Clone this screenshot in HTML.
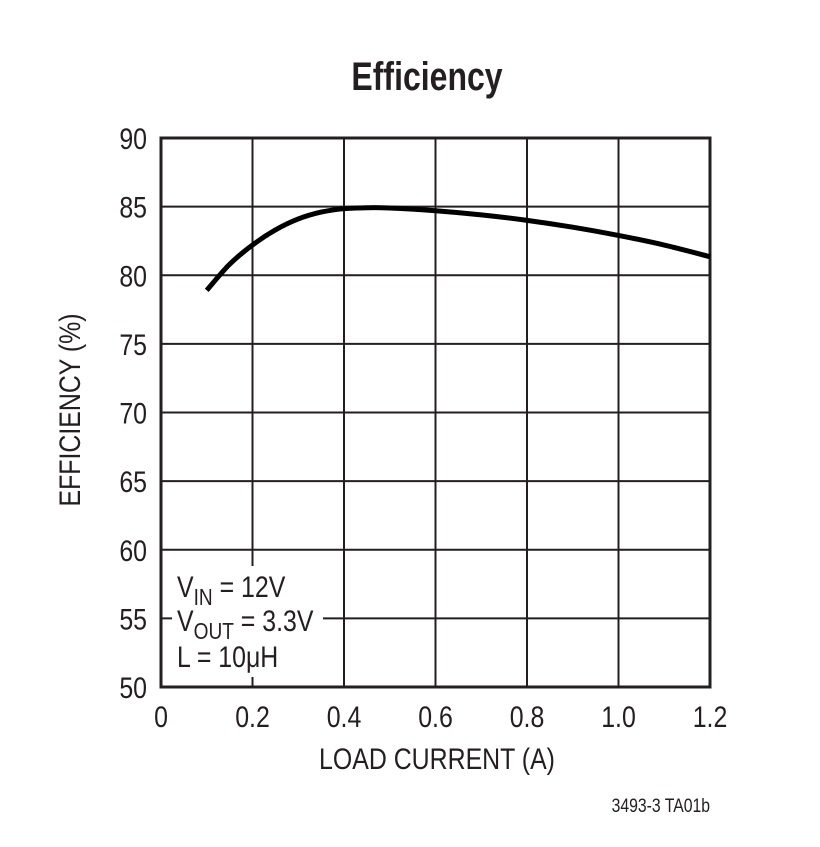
<!DOCTYPE html>
<html><head><meta charset="utf-8"><style>
html,body{margin:0;padding:0;background:#fff;}
svg text{font-family:"Liberation Sans",sans-serif;fill:#231f20;}
</style></head><body>
<svg id="chart" width="820" height="842" xmlns="http://www.w3.org/2000/svg">
<text x="0" y="0" font-size="40" font-weight="bold" text-anchor="middle" transform="translate(427,90) scale(0.8,1)">Efficiency</text>
<g id="grid"></g>
<g id="ticks"></g>
<rect x="172" y="566" width="151" height="111" fill="#fff"/>
<g font-size="30" transform="translate(177,0) scale(0.83,1)">
<text x="0" y="597">V<tspan font-size="23" dy="8">IN</tspan><tspan dy="-8"> = 12V</tspan></text>
<text x="0" y="631">V<tspan font-size="23" dy="8">OUT</tspan><tspan dy="-8"> = 3.3V</tspan></text>
<text x="0" y="667">L = 10μH</text>
</g>
<rect x="161" y="138" width="549" height="549" fill="none" stroke="#231f20" stroke-width="3"/>
<path id="curve" fill="none" stroke="#000" stroke-width="5" stroke-linecap="butt"/>
<text x="0" y="0" font-size="30" text-anchor="middle" transform="translate(437,769) scale(0.83,1)">LOAD CURRENT (A)</text>
<text x="0" y="0" font-size="30" text-anchor="middle" transform="translate(80,410) rotate(-90) scale(0.83,1)">EFFICIENCY (%)</text>
<text x="0" y="0" font-size="19" text-anchor="end" transform="translate(710,812) scale(0.83,1)">3493-3 TA01b</text>
</svg>
<script>
const xTicks=[0,0.2,0.4,0.6,0.8,1.0,1.2];
const xTickLabels=["0","0.2","0.4","0.6","0.8","1.0","1.2"];
const yTicks=[50,55,60,65,70,75,80,85,90];
const loadCurrent=[0.1,0.15,0.2,0.25,0.3,0.35,0.4,0.45,0.5,0.6,0.7,0.8,0.9,1.0,1.1,1.2];
const efficiency=[78.9,80.8,82.2,83.3,84.1,84.6,84.85,84.92,84.9,84.7,84.4,84.0,83.5,82.9,82.2,81.35];
const X0=161,X1=710,Y0=687,Y1=138;
const sx=v=>X0+(v-0)/(1.2-0)*(X1-X0);
const sy=v=>Y0-(v-50)/(90-50)*(Y0-Y1);
const NS="http://www.w3.org/2000/svg";
const grid=document.getElementById('grid'),ticks=document.getElementById('ticks');
xTicks.forEach((t,i)=>{
  const l=document.createElementNS(NS,'line');
  
  
  l.setAttribute('x1',sx(t));l.setAttribute('x2',sx(t));l.setAttribute('y1',Y1);l.setAttribute('y2',Y0);
  l.setAttribute('stroke','#231f20');l.setAttribute('stroke-width','2');grid.appendChild(l);
  const tx=document.createElementNS(NS,'text');
  
  
  tx.setAttribute('font-size','30');tx.setAttribute('text-anchor','middle');
  tx.setAttribute('transform',`translate(${sx(t)},727) scale(0.83,1)`);
  tx.textContent=xTickLabels[i];ticks.appendChild(tx);
});
yTicks.forEach(t=>{
  const l=document.createElementNS(NS,'line');
  
  
  l.setAttribute('x1',X0);l.setAttribute('x2',X1);l.setAttribute('y1',sy(t));l.setAttribute('y2',sy(t));
  l.setAttribute('stroke','#231f20');l.setAttribute('stroke-width','2');grid.appendChild(l);
  const tx=document.createElementNS(NS,'text');
  
  
  tx.setAttribute('font-size','30');tx.setAttribute('text-anchor','end');
  tx.setAttribute('transform',`translate(147,${sy(t)+11}) scale(0.83,1)`);
  tx.textContent=String(t);ticks.appendChild(tx);
});
const pts=loadCurrent.map((v,i)=>[sx(v),sy(efficiency[i])]);
let d=`M${pts[0][0]},${pts[0][1]}`;
for(let i=0;i<pts.length-1;i++){
  const p0=pts[Math.max(i-1,0)],p1=pts[i],p2=pts[i+1],p3=pts[Math.min(i+2,pts.length-1)];
  const c1=[p1[0]+(p2[0]-p0[0])/6,p1[1]+(p2[1]-p0[1])/6];
  const c2=[p2[0]-(p3[0]-p1[0])/6,p2[1]-(p3[1]-p1[1])/6];
  d+=` C${c1[0]},${c1[1]} ${c2[0]},${c2[1]} ${p2[0]},${p2[1]}`;
}
document.getElementById('curve').setAttribute('d',d);
</script>
</body></html>
